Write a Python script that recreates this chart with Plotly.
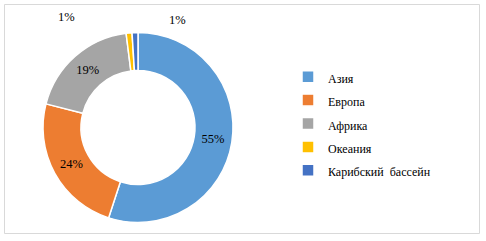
import plotly.graph_objects as go

categories = ["Азия", "Европа", "Африка", "Океания", "Карибский  бассейн"]
values = [55, 24, 19, 1, 1]
colors = ["#5B9BD5", "#ED7D31", "#A5A5A5", "#FFC000", "#4472C4"]

W, H = 486, 241
FONT = "Liberation Serif, Times New Roman, serif"
total = sum(values)
pct = [f"{round(v / total * 100)}%" for v in values]

# small slices get their labels placed outside, away from the ring
inside_text = [p if v / total >= 0.05 else "" for p, v in zip(pct, values)]

cx, cy, r = 138, 127.5, 95
fig = go.Figure(go.Pie(
    labels=[f'<span style="font-size:12px">{c}</span>' for c in categories],
    values=values,
    text=inside_text,
    textinfo="text",
    textposition="inside",
    insidetextorientation="horizontal",
    textfont=dict(family=FONT, size=12.5, color="#000000"),
    hole=0.6,
    sort=False,
    direction="clockwise",
    rotation=0,
    marker=dict(colors=colors, line=dict(color="#FFFFFF", width=1.5)),
    domain=dict(x=[(cx - r) / W, (cx + r) / W], y=[1 - (cy + r) / H, 1 - (cy - r) / H]),
    hoverinfo="label+percent",
))

small_pos = {3: (66, 17), 4: (177, 19.5)}
for i, (px, py) in small_pos.items():
    fig.add_annotation(x=px / W, y=1 - py / H, xref="paper", yref="paper",
                       xanchor="center", yanchor="middle",
                       text=pct[i], showarrow=False,
                       font=dict(family=FONT, size=12.5, color="#000000"))

fig.add_shape(type="rect", xref="paper", yref="paper",
              x0=4.5 / W, x1=479.5 / W, y0=1 - 233.5 / H, y1=1 - 4.5 / H,
              line=dict(color="#D9D9D9", width=1), fillcolor="rgba(0,0,0,0)", layer="below")

fig.update_layout(
    width=W, height=H,
    margin=dict(l=0, r=0, t=0, b=0),
    paper_bgcolor="#FFFFFF",
    plot_bgcolor="#FFFFFF",
    showlegend=True,
    legend=dict(x=288 / W, y=1 - 124 / H, xanchor="left", yanchor="middle",
                font=dict(family=FONT, size=15.7, color="#000000"),
                itemwidth=30, bgcolor="rgba(0,0,0,0)", traceorder="normal"),
)

fig.write_html("out.html", config={"displayModeBar": False},
               post_script="document.body.style.margin='0';document.body.style.overflow='hidden';")
